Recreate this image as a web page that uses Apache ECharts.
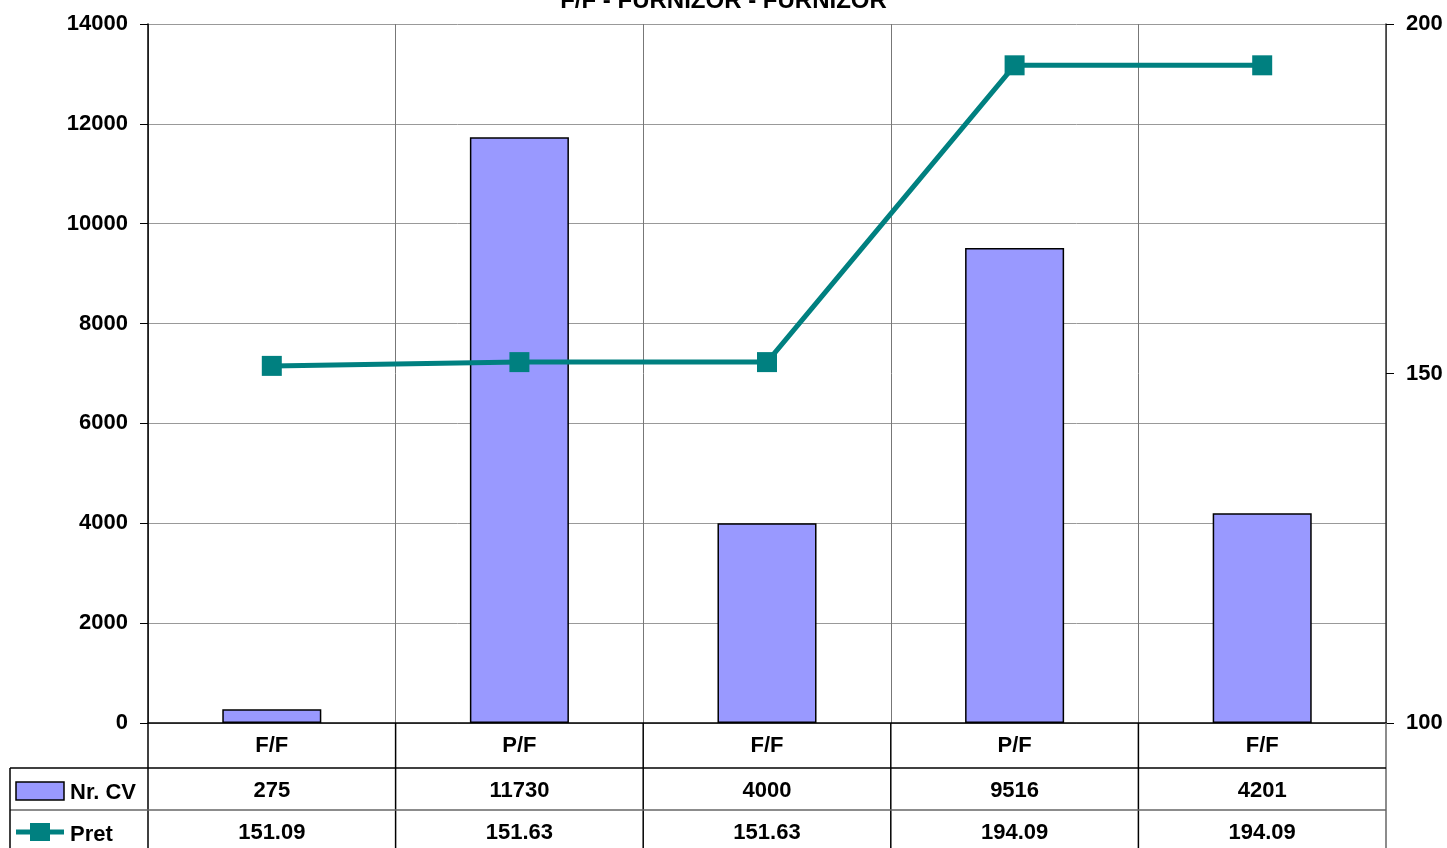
<!DOCTYPE html>
<html><head><meta charset="utf-8">
<script src="https://cdn.jsdelivr.net/npm/echarts@6/dist/echarts.min.js"></script>
<style>html,body{margin:0;padding:0;background:#fff}#c{width:1447px;height:848px}</style>
</head><body><div id="c"></div>
<script>
var titleText = 'F/F - FURNIZOR - FURNIZOR';
var categories = ['F/F', 'P/F', 'F/F', 'P/F', 'F/F'];
var nrCV = [275, 11730, 4000, 9516, 4201];
var pret = [151.09, 151.63, 151.63, 194.09, 194.09];
var seriesNames = ['Nr. CV', 'Pret'];

var FONT = '"Liberation Sans Narrow","Arial Narrow","Liberation Sans",Arial,sans-serif';
var FS = 22;
var L = 148, R = 1386, T = 24, B = 723, W = 1447, H = 848;
var chart = echarts.init(document.getElementById('c'));
var lbl = {fontFamily: FONT, fontWeight: 'bold', fontSize: FS, color: '#000'};

var graphics = [];
function line(x1, y1, x2, y2, c, w) {
  graphics.push({type: 'line', silent: true, z: 100, shape: {x1: x1, y1: y1, x2: x2, y2: y2}, style: {stroke: c || '#000', lineWidth: w || 1.5}});
}
line(L, B, L, H);
line(R, B, R, H, '#666');
for (var i = 1; i < categories.length; i++) {
  var x = L + (R - L) * i / categories.length;
  line(x, B, x, H);
}
line(10, 768, R, 768);
line(10, 810, R, 810, '#666');
line(10, 768, 10, H);
graphics.push({type: 'rect', z: 101, shape: {x: 16, y: 782, width: 48, height: 18}, style: {fill: '#9999FF', stroke: '#000', lineWidth: 1.5}});
graphics.push({type: 'text', z: 101, style: {x: 70, y: 793, text: seriesNames[0], font: 'bold ' + FS + 'px ' + FONT, fill: '#000', verticalAlign: 'middle'}});
graphics.push({type: 'line', z: 101, shape: {x1: 16, y1: 832, x2: 64, y2: 832}, style: {stroke: '#008080', lineWidth: 5}});
graphics.push({type: 'rect', z: 102, shape: {x: 30, y: 823, width: 20, height: 18}, style: {fill: '#008080'}});
graphics.push({type: 'text', z: 101, style: {x: 70, y: 835, text: seriesNames[1], font: 'bold ' + FS + 'px ' + FONT, fill: '#000', verticalAlign: 'middle'}});

chart.setOption({
  animation: false,
  title: {text: titleText, left: 'center', top: -16, textStyle: {fontFamily: FONT, fontWeight: 'bold', fontSize: 24, color: '#000'}},
  grid: {left: L, right: W - R, top: T, bottom: H - B, containLabel: false},
  xAxis: [
    {type: 'category', data: categories, position: 'bottom',
     axisLine: {show: true, lineStyle: {color: '#000', width: 1.5}}, axisTick: {show: false},
     splitLine: {show: true, lineStyle: {color: '#777', width: 1}},
     axisLabel: Object.assign({margin: 12}, lbl)},
    {type: 'category', data: nrCV.map(String), position: 'bottom', offset: 45,
     axisLine: {show: false}, axisTick: {show: false}, axisLabel: Object.assign({margin: 12}, lbl)},
    {type: 'category', data: pret.map(function (v) { return v.toFixed(2); }), position: 'bottom', offset: 87,
     axisLine: {show: false}, axisTick: {show: false}, axisLabel: Object.assign({margin: 12}, lbl)}
  ],
  yAxis: [
    {type: 'value', min: 0, max: 14000, interval: 2000, position: 'left',
     axisLine: {show: true, lineStyle: {color: '#000', width: 1.5}},
     axisTick: {show: true, inside: false, length: 8, lineStyle: {color: '#000'}},
     splitLine: {show: true, lineStyle: {color: '#999', width: 1}},
     axisLabel: Object.assign({margin: 20, formatter: function (v) { return String(v); }}, lbl)},
    {type: 'value', min: 100, max: 200, interval: 50, position: 'right',
     axisLine: {show: true, lineStyle: {color: '#333', width: 1.5}},
     axisTick: {show: true, length: 8, lineStyle: {color: '#000'}},
     splitLine: {show: false},
     axisLabel: Object.assign({margin: 20, formatter: function (v) { return String(v); }}, lbl)}
  ],
  series: [
    {name: seriesNames[0], type: 'bar', xAxisIndex: 0, yAxisIndex: 0, data: nrCV, barWidth: '40%',
     itemStyle: {color: '#9999FF', borderColor: '#000', borderWidth: 1.5}},
    {name: seriesNames[1], type: 'line', xAxisIndex: 0, yAxisIndex: 1, data: pret,
     symbol: 'rect', symbolSize: 20, lineStyle: {color: '#008080', width: 5},
     itemStyle: {color: '#008080'}, z: 5}
  ],
  graphic: graphics
});
</script></body></html>
